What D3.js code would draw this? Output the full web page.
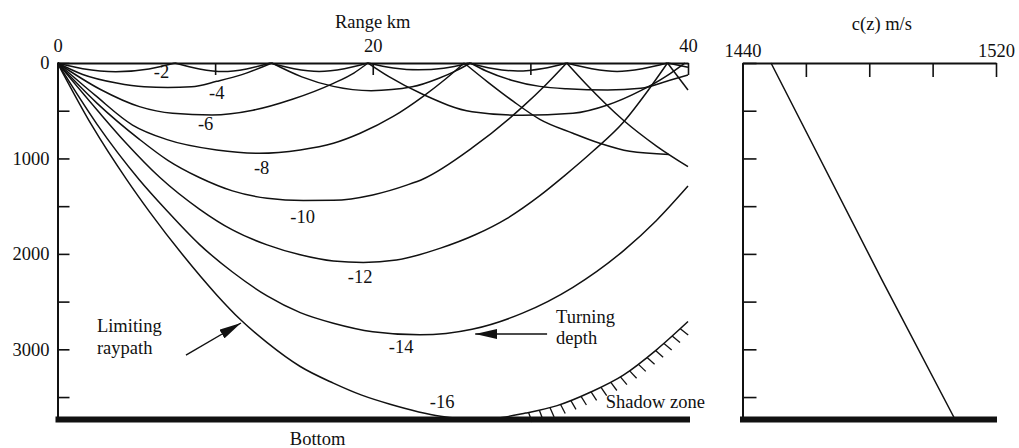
<!DOCTYPE html>
<html>
<head>
<meta charset="utf-8">
<script src="https://cdn.jsdelivr.net/npm/d3@7"></script>
<style>
  html, body { margin: 0; padding: 0; background: #fff; }
</style>
</head>
<body>
<svg id="chart" width="1019" height="448"></svg>
<script>
// ---- axis ticks ----
const rangeTicksKm   = [0, 10, 20, 30, 40];
const rangeLabelsKm  = [0, 20, 40];
const depthTicks     = [0, 500, 1000, 1500, 2000, 2500, 3000, 3500];
const depthLabels    = [0, 1000, 2000, 3000];
const speedTicks     = [1440, 1460, 1480, 1500, 1520];
const speedLabels    = [1440, 1520];
const bottomDepth    = 3730;

// ---- sound speed profile c(z) ----
const profileDepth = [0, 2272, 3730];
const profileSpeed = [1449, 1484, 1507];

// ---- ray paths: [range km, depth m]; a depth of 0 after the start is a surface bounce ----
const launchAngles = [-2, -4, -6, -8, -10, -12, -14, -16];

const ray2 = [
  [0, 0], [1.6, 60], [3.7, 92], [5.8, 62], [7.45, 0],
  [9.0, 62], [10.5, 90], [12.0, 62], [13.5, 0],
  [15.0, 60], [16.6, 88], [18.2, 60], [19.7, 0],
  [21.3, 52], [22.9, 72], [24.5, 55], [26.1, 0],
  [27.6, 58], [29.2, 85], [30.8, 58], [32.3, 0],
  [33.9, 60], [35.5, 88], [37.1, 60], [38.7, 0],
  [40, 45]
];
const ray4 = [
  [0, 0], [1.6, 120], [3.75, 210], [5.5, 250], [7.0, 258], [8.5, 250], [10.1, 192], [11.7, 122], [13.6, 0],
  [15.5, 145], [17.5, 245], [19.9, 290], [22.5, 250], [24.2, 160], [25.3, 80], [26.2, 0],
  [27.2, 84], [28.8, 180], [30.6, 245], [32.3, 270], [34.9, 283], [37, 265], [38.9, 178], [40, 125]
];
const ray6 = [
  [0, 0], [2.7, 275], [5.2, 457], [7.3, 527], [9.8, 545], [12.4, 495], [14.9, 380], [17.5, 213], [18.8, 105], [19.7, 0],
  [21, 140], [23.2, 330], [26.3, 510], [29.5, 548], [32.7, 527], [34.9, 440], [37, 290], [38.6, 140], [39.8, 0]
];
const ray8 = [
  [0, 0], [2.4, 340], [4.76, 650], [6.9, 800], [10.1, 911], [12.8, 946], [15.4, 911], [17.5, 841], [19.2, 736],
  [21.3, 560], [23.2, 349], [24.6, 170], [25.8, 0],
  [27.3, 200], [28.9, 400], [30.6, 590], [32.7, 736], [34.4, 841], [36.3, 925], [38.8, 958]
];
const ray10 = [
  [0, 0], [2.5, 420], [5.2, 800], [7, 1020], [9.0, 1200], [11.1, 1340], [13.3, 1417], [15.6, 1440], [17.5, 1438],
  [20, 1382], [22.2, 1277], [23.2, 1215], [26.3, 890], [29.5, 460], [31, 225], [32.3, 0],
  [33.5, 215], [35.9, 600], [38, 870], [40, 1086]
];
const ray12 = [
  [0, 0], [2.5, 490], [4.3, 830], [6.5, 1200], [9.0, 1530], [11.1, 1749], [13.3, 1906], [15.4, 2010], [17.5, 2075],
  [19.4, 2090], [21.5, 2065], [24.3, 1940], [26.5, 1800], [28.5, 1630], [30.6, 1390], [32.1, 1190], [34, 920],
  [35.9, 620], [37.5, 280], [38.7, 0],
  [40, 283]
];
const ray14 = [
  [0, 0], [2.5, 640], [5.2, 1225], [6.9, 1540], [9.0, 1900], [11.1, 2190], [13.3, 2440], [15.4, 2615], [17.5, 2726],
  [20, 2815], [23.0, 2848], [26.3, 2790], [29.5, 2621], [32.7, 2350], [35.9, 1968], [38, 1650], [40, 1290]
];
const ray16 = [
  [0, 0], [2.2, 660], [4.4, 1225], [5.84, 1560], [7.94, 2010], [10.1, 2430], [11.55, 2680], [13.3, 2930], [15.4, 3180],
  [17.5, 3354], [19.3, 3480], [21.1, 3575], [24.3, 3700], [26.3, 3728], [27.8, 3720], [29.7, 3668], [31.7, 3590],
  [33.8, 3450], [35.9, 3270], [38.0, 3005], [40, 2709]
];
const rays = [ray2, ray4, ray6, ray8, ray10, ray12, ray14, ray16];

// ray label anchors (range km, depth m)
const labelRange = [6.6, 10.1, 9.4, 12.95, 15.55, 19.2, 21.8, 24.4];
const labelDepth = [157, 377, 707, 1162, 1672, 2304, 3037, 3616];

// shadow zone boundary starts on the limiting ray at this range
const shadowFromKm = 29.7;

// ---- layout ----
const W = 1019, H = 448;
const FONT = 18.5;
const SERIF = "'Liberation Serif', 'DejaVu Serif', 'Times New Roman', serif";
const INK = "#111";

const svg = d3.select("#chart")
  .attr("font-family", SERIF)
  .style("font-family", SERIF);
svg.append("rect").attr("width", W).attr("height", H).attr("fill", "#fff");

const x  = d3.scaleLinear().domain([0, 40]).range([57.5, 688]);
const y  = d3.scaleLinear().domain([0, bottomDepth]).range([63, 419]);
const xc = d3.scaleLinear().domain([1440, 1520]).range([742.5, 996]);

function addText(sel) {
  return sel.append("text")
    .style("font-family", SERIF)
    .attr("font-size", FONT)
    .attr("fill", INK);
}

const defs = svg.append("defs");
defs.append("clipPath").attr("id", "rayClip")
  .append("rect")
  .attr("x", x(0)).attr("y", y(0) - 1)
  .attr("width", x(40) - x(0) + 1).attr("height", y(bottomDepth) - y(0) + 2);

defs.append("marker")
  .attr("id", "arrowHead")
  .attr("viewBox", "0 0 22 10")
  .attr("refX", 22).attr("refY", 5)
  .attr("markerWidth", 22).attr("markerHeight", 10)
  .attr("markerUnits", "userSpaceOnUse")
  .attr("orient", "auto")
  .append("path").attr("d", "M0,0L22,5L0,10Z").attr("fill", INK);

function styleAxis(g, strokeW) {
  g.attr("font-size", null).attr("font-family", null);
  g.select(".domain").attr("stroke", INK).attr("stroke-width", strokeW);
  g.selectAll(".tick line").attr("stroke", INK).attr("stroke-width", 1.6);
  g.selectAll(".tick text")
    .style("font-family", SERIF)
    .attr("font-size", FONT).attr("fill", INK);
}

// ---- left panel: range / depth ----
const topAxis = d3.axisTop(x)
  .tickValues(rangeTicksKm)
  .tickSize(-12).tickSizeOuter(0).tickPadding(11)
  .tickFormat(d => rangeLabelsKm.includes(d) ? d3.format("d")(d) : "");
svg.append("g").attr("transform", `translate(0,${y(0)})`).call(topAxis).call(g => styleAxis(g, 2));

const leftAxis = d3.axisLeft(y)
  .tickValues(depthTicks)
  .tickSize(-12).tickSizeOuter(0).tickPadding(8)
  .tickFormat(d => depthLabels.includes(d) ? d3.format("d")(d) : "");
svg.append("g").attr("transform", `translate(${x(0)},0)`).call(leftAxis).call(g => styleAxis(g, 2));

addText(svg)
  .attr("x", (x(0) + x(40)) / 2).attr("y", 28)
  .attr("text-anchor", "middle")
  .text("Range km");

// rays, one path per arc between surface bounces
const rayLine = d3.line()
  .x(d => x(d[0])).y(d => y(d[1]))
  .curve(d3.curveMonotoneX);

function splitArcs(pts) {
  const arcs = [];
  let cur = [pts[0]];
  for (let i = 1; i < pts.length; i++) {
    cur.push(pts[i]);
    if (pts[i][1] === 0 && i < pts.length - 1) {
      arcs.push(cur);
      cur = [pts[i]];
    }
  }
  if (cur.length > 1) arcs.push(cur);
  return arcs;
}

const rayLayer = svg.append("g").attr("clip-path", "url(#rayClip)");
rays.forEach(pts => {
  rayLayer.append("g").attr("class", "ray")
    .selectAll("path")
    .data(splitArcs(pts))
    .join("path")
    .attr("d", rayLine)
    .attr("fill", "none")
    .attr("stroke", INK)
    .attr("stroke-width", 1.5)
    .attr("stroke-linejoin", "round");
});

// launch-angle labels
const angleLabels = svg.append("g");
launchAngles.forEach((a, i) => {
  addText(angleLabels)
    .attr("x", x(labelRange[i]))
    .attr("y", y(labelDepth[i]))
    .attr("text-anchor", "middle")
    .text(a);
});

// shadow zone hatching along the limiting ray
const shadowPath = svg.append("path")
  .attr("d", rayLine(ray16.filter(d => d[0] >= shadowFromKm)))
  .attr("fill", "none").attr("stroke", "none");
const sNode = shadowPath.node();
const sLen = sNode.getTotalLength();
const hatch = [];
for (let s = 3; s <= sLen - 1; s += 11) {
  const a = sNode.getPointAtLength(Math.max(0, s - 0.6));
  const b = sNode.getPointAtLength(Math.min(sLen, s + 0.6));
  const p = sNode.getPointAtLength(s);
  let tx = b.x - a.x, ty = b.y - a.y;
  const n = Math.hypot(tx, ty) || 1;
  tx /= n; ty /= n;
  hatch.push({ x1: p.x, y1: p.y, x2: p.x - ty * 10 + tx * 1.5, y2: p.y + tx * 10 + ty * 1.5 });
}
svg.append("g").selectAll("line")
  .data(hatch)
  .join("line")
  .attr("x1", d => d.x1).attr("y1", d => d.y1)
  .attr("x2", d => d.x2).attr("y2", d => d.y2)
  .attr("stroke", INK).attr("stroke-width", 1.3);

// sea floor
svg.append("line")
  .attr("x1", x(0) - 2).attr("x2", x(40) + 2)
  .attr("y1", y(bottomDepth) + 0.5).attr("y2", y(bottomDepth) + 0.5)
  .attr("stroke", INK).attr("stroke-width", 6);

addText(svg)
  .attr("x", x(16.5)).attr("y", y(4002))
  .attr("text-anchor", "middle")
  .text("Bottom");

// annotations
addText(svg).attr("x", x(2.5)).attr("y", y(2822)).text("Limiting");
addText(svg).attr("x", x(2.5)).attr("y", y(3046)).text("raypath");
addText(svg).attr("x", x(31.63)).attr("y", y(2722)).text("Turning");
addText(svg).attr("x", x(31.63)).attr("y", y(2946)).text("depth");

svg.append("line")
  .attr("x1", x(8.15)).attr("y1", y(3060))
  .attr("x2", x(11.64)).attr("y2", y(2724))
  .attr("stroke", INK).attr("stroke-width", 1.4)
  .attr("marker-end", "url(#arrowHead)");

svg.append("line")
  .attr("x1", x(31.06)).attr("y1", y(2840))
  .attr("x2", x(26.5)).attr("y2", y(2840))
  .attr("stroke", INK).attr("stroke-width", 1.4)
  .attr("marker-end", "url(#arrowHead)");

addText(svg)
  .attr("x", x(34.78)).attr("y", y(3618))
  .text("Shadow zone");

// ---- right panel: sound speed profile ----
const speedAxis = d3.axisTop(xc)
  .tickValues(speedTicks)
  .tickSize(-14).tickSizeOuter(0).tickPadding(6)
  .tickFormat(d => speedLabels.includes(d) ? d3.format("d")(d) : "");
svg.append("g").attr("transform", `translate(0,${y(0)})`).call(speedAxis).call(g => styleAxis(g, 2));

const profileAxis = d3.axisLeft(y)
  .tickValues(depthTicks)
  .tickSize(-14).tickSizeOuter(0)
  .tickFormat("");
svg.append("g").attr("transform", `translate(${xc(1440)},0)`).call(profileAxis).call(g => styleAxis(g, 2));

addText(svg)
  .attr("x", xc(1484)).attr("y", 30)
  .attr("text-anchor", "middle")
  .text("c(z) m/s");

const profileLine = d3.line()
  .x((d, i) => xc(profileSpeed[i]))
  .y(d => y(d));
svg.append("path")
  .attr("d", profileLine(profileDepth))
  .attr("fill", "none").attr("stroke", INK).attr("stroke-width", 1.5);

svg.append("line")
  .attr("x1", xc(1440) - 2.5).attr("x2", xc(1520) + 1)
  .attr("y1", y(bottomDepth) + 0.5).attr("y2", y(bottomDepth) + 0.5)
  .attr("stroke", INK).attr("stroke-width", 6);
</script>
</body>
</html>
